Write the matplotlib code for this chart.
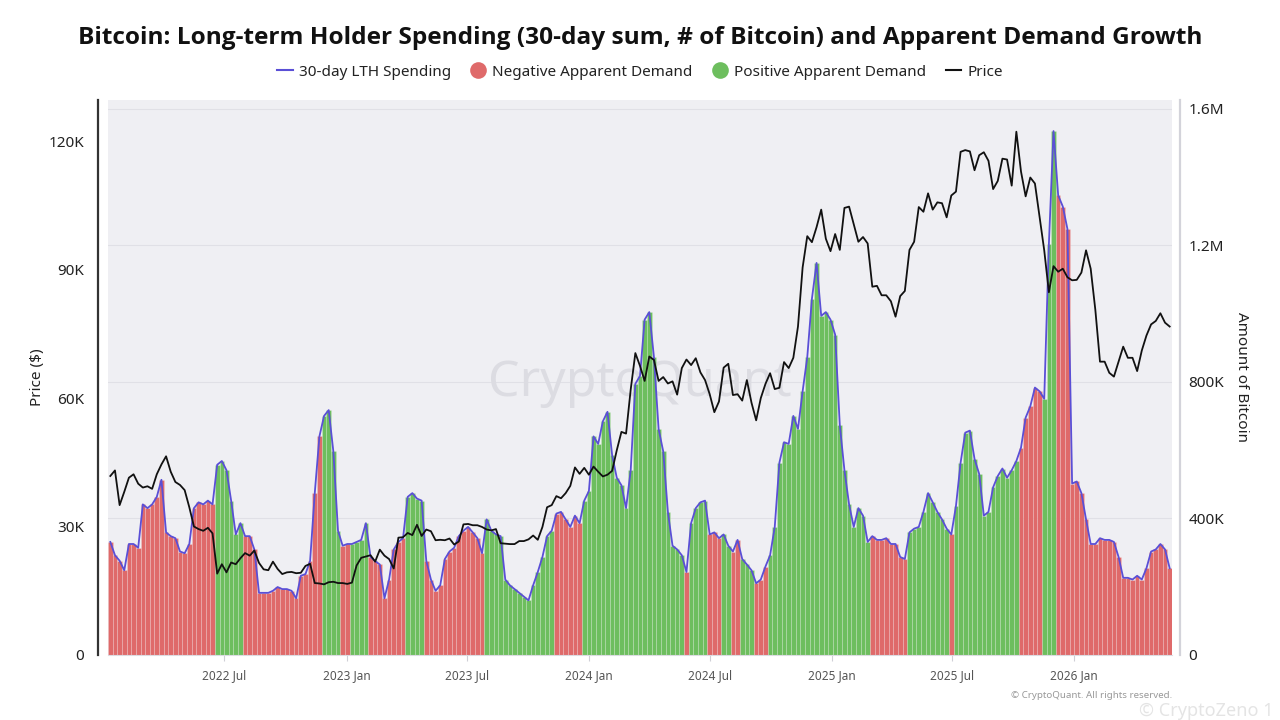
import pandas as pd
import matplotlib
matplotlib.use("Agg")
import matplotlib.pyplot as plt
import matplotlib.dates as mdates
from matplotlib.lines import Line2D

plt.rcParams['font.family'] = ['Noto Sans', 'DejaVu Sans']

# weekly samples
weeks = pd.date_range('2022-01-10', periods=229, freq='7D')

# 30-day LTH spending, thousands of BTC
lth_spending = [
    331, 292, 276, 248, 325, 325, 314, 441, 430, 441,
    463, 513, 359, 348, 342, 303, 298, 325, 430, 447,
    441, 452, 441, 557, 568, 541, 452, 353, 386, 348,
    348, 309, 182, 182, 182, 188, 199, 193, 193, 188,
    166, 232, 237, 276, 474, 640, 700, 717, 596, 364,
    320, 325, 325, 331, 337, 386, 287, 275, 265, 166,
    221, 309, 331, 342, 463, 474, 458, 452, 276, 221,
    188, 204, 281, 303, 314, 348, 364, 375, 359, 342,
    298, 397, 364, 353, 348, 221, 204, 193, 182, 171,
    160, 204, 243, 287, 348, 364, 414, 419, 397, 375,
    408, 386, 452, 480, 640, 618, 684, 712, 585, 519,
    497, 430, 541, 794, 817, 982, 1004, 872, 662, 596,
    419, 320, 309, 292, 243, 386, 430, 447, 452, 353,
    359, 342, 353, 320, 303, 337, 281, 265, 248, 210,
    221, 259, 292, 375, 563, 623, 618, 700, 662, 772,
    872, 1043, 1148, 993, 1004, 982, 938, 673, 541, 441,
    375, 430, 408, 331, 348, 337, 337, 342, 325, 325,
    287, 281, 359, 370, 375, 419, 474, 447, 419, 397,
    370, 353, 436, 563, 651, 657, 574, 530, 408, 419,
    491, 524, 546, 519, 541, 568, 607, 695, 728, 783,
    772, 750, 1203, 1534, 1346, 1313, 1247, 502, 508, 474,
    397, 325, 325, 342, 337, 337, 331, 287, 226, 226,
    221, 232, 221, 254, 303, 309, 325, 309, 254,
]

# BTC price, thousands of USD
btc_price = [
    # 2022
    41.8, 43.1, 35.0, 38.1, 41.4, 42.2, 40.0, 39.1, 39.4, 38.8,
    42.2, 44.5, 46.4, 42.8, 40.4, 39.7, 38.5, 34.5, 30.0, 29.4,
    29.0, 29.7, 28.4, 19.0, 21.2, 19.3, 21.6, 21.2, 22.6, 23.8,
    23.2, 24.4, 21.5, 20.0, 19.8, 21.8, 20.1, 18.9, 19.3, 19.4,
    19.1, 19.2, 20.8, 21.3, 16.8, 16.7, 16.5, 17.0, 17.1, 16.8,
    16.8, 16.6,
    # 2023
    16.9, 20.9, 22.7, 23.0, 23.3, 21.8, 24.6, 23.2, 22.4, 20.2,
    27.4, 27.5, 28.5, 28.0, 30.4, 27.8, 29.3, 28.9, 26.8, 26.9,
    26.8, 27.2, 25.8, 26.5, 30.5, 30.6, 30.3, 30.3, 29.9, 29.3,
    29.1, 29.4, 26.1, 26.0, 25.9, 25.9, 26.6, 26.6, 27.0, 27.9,
    26.9, 29.9, 34.5, 35.0, 37.1, 36.6, 37.8, 39.5, 43.8, 42.3,
    43.7, 42.1,
    # 2024
    44.0, 42.8, 41.7, 42.1, 43.0, 47.8, 52.1, 51.7, 62.0, 70.5,
    67.5, 64.0, 69.7, 68.9, 64.0, 64.9, 63.4, 63.9, 60.8, 67.0,
    69.0, 67.7, 69.3, 66.0, 64.2, 60.9, 56.7, 59.2, 67.1, 68.0,
    60.7, 60.9, 59.4, 64.2, 58.9, 54.8, 60.0, 63.3, 65.8, 62.1,
    62.4, 68.4, 67.0, 69.4, 76.7, 90.5, 97.8, 96.4, 99.9, 104.0,
    97.2, 94.3,
    # 2025
    98.3, 94.6, 104.4, 104.7, 100.6, 96.5, 97.6, 96.1, 86.0, 86.2,
    84.0, 84.0, 82.6, 79.0, 83.8, 85.0, 94.6, 96.5, 104.6, 103.5,
    107.8, 104.0, 105.7, 105.5, 102.2, 107.3, 108.2, 117.5, 117.9, 117.6,
    113.2, 116.7, 117.4, 115.4, 108.8, 110.7, 115.9, 115.7, 109.6, 122.2,
    112.9, 107.1, 111.5, 110.1, 102.3, 94.5, 84.7, 90.8, 89.5, 90.2,
    88.2, 87.5,
    # 2026
    87.6, 89.3, 94.5, 90.2, 80.6, 68.5, 68.5, 65.9, 65.0, 68.5,
    72.0, 69.4, 69.4, 66.3, 71.1, 74.6, 77.2, 78.0, 79.8, 77.6,
    76.7,
]

# apparent demand sign, as (sign, number of weeks) runs
demand_runs = [
    ('neg', 23), ('pos', 6), ('neg', 17), ('pos', 4), ('neg', 2), ('pos', 4),
    ('neg', 8), ('pos', 4), ('neg', 13), ('pos', 15), ('neg', 6), ('pos', 22),
    ('neg', 1), ('pos', 4), ('neg', 3), ('pos', 2), ('neg', 2), ('pos', 3),
    ('neg', 3), ('pos', 22), ('neg', 8), ('pos', 9), ('neg', 1), ('pos', 14),
    ('neg', 5), ('pos', 3), ('neg', 25),
]

RED = '#df6a6a'
GREEN = '#6dbe5e'
BLUE = '#5a4fd6'

bar_colors = []
for sign, n in demand_runs:
    bar_colors += [GREEN if sign == 'pos' else RED] * n

fig = plt.figure(figsize=(12.8, 7.2), dpi=100)
ax = fig.add_axes([108 / 1280, 65 / 720, 1064 / 1280, 555 / 720])
ax.set_facecolor('#efeff3')
ax2 = ax.twinx()

ax.text(0.5, 0.49, 'CryptoQuant', transform=ax.transAxes, ha='center', va='center',
        fontsize=36, color='#dcdce2', zorder=1)

ax.bar(weeks, lth_spending, width=7, color=bar_colors, edgecolor=(1, 1, 1, 0.25),
       linewidth=0.5, zorder=2)
ax.plot(weeks, lth_spending, color=BLUE, lw=1.3, zorder=3)

ax.set_xlim(weeks[0] - pd.Timedelta(days=3.5), weeks[-1] + pd.Timedelta(days=3.5))
ax.set_ylim(0, 1625)
ax.set_yticks([0, 400, 800, 1200, 1600])
ax.set_yticklabels(['0', '400K', '800K', '1.2M', '1.6M'])
ax.grid(axis='y', color='#e0e0e6', lw=0.8)
ax.set_axisbelow(True)

tick_dates = pd.to_datetime(['2022-07-01', '2023-01-01', '2023-07-01', '2024-01-01',
                             '2024-07-01', '2025-01-01', '2025-07-01', '2026-01-01'])
ax.set_xticks(tick_dates)
ax.xaxis.set_major_formatter(mdates.DateFormatter('%Y %b'))
ax.tick_params(axis='x', length=4, color='#cfcfd6', labelsize=8.5, labelcolor='#555', pad=6)

ax2.plot(weeks, btc_price, color='#111111', lw=1.3, zorder=4)
ax2.set_ylim(0, 129.6)
ax2.set_yticks([0, 30, 60, 90, 120])
ax2.set_yticklabels(['0', '30K', '60K', '90K', '120K'])

# amounts on the right, price on the left
ax.yaxis.tick_right()
ax2.yaxis.tick_left()
ax.tick_params(axis='y', length=0, pad=12, labelsize=11, labelcolor='#222')
ax2.tick_params(axis='y', length=0, pad=10, labelsize=11, labelcolor='#222')

for a in (ax, ax2):
    for s in a.spines.values():
        s.set_visible(False)
ax.spines['bottom'].set_visible(True)
ax.spines['bottom'].set_color('#dcdce2')
ax2.spines['left'].set_visible(True)
ax2.spines['left'].set_position(('outward', 7))
ax2.spines['left'].set_color('#333333')
ax2.spines['left'].set_linewidth(1.6)
ax2.spines['right'].set_visible(True)
ax2.spines['right'].set_position(('outward', 6))
ax2.spines['right'].set_color('#d3d3da')
ax2.spines['right'].set_linewidth(1.6)

fig.text(38 / 1280, 1 - 377 / 720, 'Price ($)', rotation=90, ha='center', va='center',
         fontsize=11, color='#222')
fig.text(1242 / 1280, 1 - 377 / 720, 'Amount of Bitcoin', rotation=270, ha='center',
         va='center', fontsize=11, color='#222')

fig.text(0.5, 1 - 38 / 720,
         'Bitcoin: Long-term Holder Spending (30-day sum, # of Bitcoin) and Apparent Demand Growth',
         ha='center', va='center', fontsize=17.6, fontweight='bold', color='#111',
         family=['Open Sans', 'DejaVu Sans'])

handles = [
    Line2D([], [], color=BLUE, lw=1.5),
    Line2D([], [], ls='none', marker='o', markersize=12, markerfacecolor=RED, markeredgecolor='none'),
    Line2D([], [], ls='none', marker='o', markersize=12, markerfacecolor=GREEN, markeredgecolor='none'),
    Line2D([], [], color='#111111', lw=1.5),
]
labels = ['30-day LTH Spending', 'Negative Apparent Demand', 'Positive Apparent Demand', 'Price']
fig.legend(handles, labels, loc='center', bbox_to_anchor=(0.5, 1 - 72 / 720), ncol=4,
           frameon=False, fontsize=11, handlelength=1.0, handletextpad=0.4,
           columnspacing=1.3, labelcolor='#222')

fig.text(1172 / 1280, 1 - 696 / 720, '© CryptoQuant. All rights reserved.', ha='right',
         va='center', fontsize=7, color='#999999')
fig.text(0.995, 1 - 711 / 720, '© CryptoZeno 1', ha='right', va='center', fontsize=13,
         color='#d9d9d9', alpha=0.7)

fig.savefig('out.png', dpi=100)
